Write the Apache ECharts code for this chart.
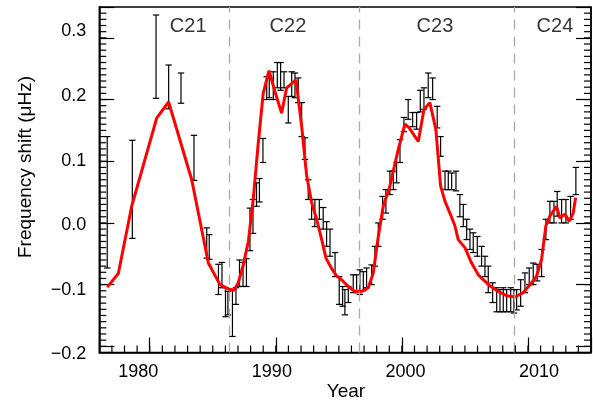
<!DOCTYPE html>
<html><head><meta charset="utf-8">
<script src="https://cdn.jsdelivr.net/npm/echarts@6/dist/echarts.min.js"></script>
<style>html,body{margin:0;padding:0;background:#fff}#c{width:593px;height:403px}</style>
</head><body><div id="c"></div>
<script>
// Error bar measurements: year, lower and upper ends (μHz)
const barYears = [1976.63, 1978.62, 1980.50, 1981.50, 1982.48, 1983.51, 1984.52, 1984.72, 1985.45, 1985.73, 1986.01, 1986.20, 1986.56, 1986.84, 1987.12, 1987.40, 1987.67, 1987.95, 1988.19, 1988.47, 1988.70, 1988.98, 1989.28, 1989.48, 1989.80, 1990.12, 1990.38, 1990.65, 1990.99, 1991.26, 1991.52, 1991.78, 1992.05, 1992.31, 1992.57, 1992.84, 1993.10, 1993.45, 1993.76, 1994.03, 1994.30, 1994.70, 1995.03, 1995.30, 1995.48, 1995.75, 1996.14, 1996.41, 1996.67, 1996.94, 1997.20, 1997.60, 1997.86, 1998.13, 1998.47, 1998.73, 1999.05, 1999.32, 1999.58, 1999.85, 2000.16, 2000.50, 2000.85, 2001.17, 2001.46, 2001.75, 2002.09, 2002.44, 2002.80, 2003.07, 2003.42, 2003.68, 2003.95, 2004.29, 2004.60, 2004.87, 2005.14, 2005.40, 2005.66, 2005.98, 2006.32, 2006.59, 2006.85, 2007.20, 2007.52, 2007.78, 2008.04, 2008.31, 2008.63, 2008.89, 2009.10, 2009.42, 2009.76, 2010.10, 2010.42, 2010.73, 2011.08, 2011.42, 2011.74, 2012.06, 2012.32, 2012.67, 2013.01, 2013.38, 2013.80];
const barLow = [-0.073, -0.025, 0.202, 0.185, 0.194, 0.069, -0.057, -0.059, -0.116, -0.105, -0.152, -0.149, -0.184, -0.132, -0.103, -0.103, -0.103, -0.045, -0.017, 0.027, 0.034, 0.098, 0.200, 0.203, 0.200, 0.219, 0.215, 0.219, 0.162, 0.205, 0.203, 0.195, 0.140, 0.103, 0.038, 0.006, -0.006, 0.006, -0.010, -0.038, -0.054, -0.087, -0.132, -0.135, -0.149, -0.129, -0.113, -0.113, -0.116, -0.110, -0.105, -0.100, -0.070, -0.038, 0.006, 0.016, 0.046, 0.054, 0.065, 0.098, 0.148, 0.168, 0.156, 0.152, 0.180, 0.184, 0.203, 0.200, 0.154, 0.108, 0.054, 0.054, 0.054, 0.052, 0.010, -0.006, -0.027, -0.043, -0.048, -0.054, -0.070, -0.087, -0.113, -0.129, -0.144, -0.144, -0.144, -0.144, -0.144, -0.146, -0.141, -0.135, -0.113, -0.100, -0.100, -0.094, -0.087, -0.027, 0.000, 0.000, 0.011, 0.000, 0.000, 0.006, 0.046];
const barHigh = [0.140, 0.134, 0.337, 0.256, 0.243, 0.142, -0.008, -0.019, -0.067, -0.064, -0.105, -0.111, -0.108, -0.105, -0.060, -0.064, -0.058, 0.024, 0.038, 0.065, 0.072, 0.137, 0.237, 0.235, 0.245, 0.260, 0.260, 0.245, 0.205, 0.245, 0.243, 0.235, 0.195, 0.138, 0.070, 0.038, 0.038, 0.038, 0.025, 0.002, -0.010, -0.048, -0.087, -0.103, -0.108, -0.103, -0.084, -0.084, -0.076, -0.079, -0.073, -0.068, -0.038, 0.000, 0.043, 0.054, 0.084, 0.084, 0.098, 0.135, 0.171, 0.200, 0.179, 0.179, 0.215, 0.219, 0.243, 0.235, 0.189, 0.140, 0.084, 0.084, 0.081, 0.084, 0.046, 0.030, 0.006, -0.010, -0.016, -0.022, -0.038, -0.054, -0.070, -0.097, -0.105, -0.108, -0.105, -0.108, -0.105, -0.108, -0.108, -0.092, -0.081, -0.073, -0.065, -0.067, -0.043, 0.006, 0.035, 0.035, 0.051, 0.038, 0.038, 0.043, 0.090];

// Red curve
const fitYears = [1976.63, 1977.51, 1978.57, 1980.55, 1981.50, 1983.33, 1984.65, 1985.57, 1986.23, 1986.70, 1987.02, 1987.42, 1987.82, 1988.21, 1988.61, 1989.00, 1989.46, 1989.93, 1990.46, 1990.86, 1991.60, 1992.05, 1992.45, 1992.84, 1993.24, 1993.64, 1993.98, 1994.43, 1994.83, 1995.22, 1995.75, 1996.28, 1996.81, 1997.33, 1997.73, 1998.13, 1998.52, 1999.05, 1999.71, 2000.24, 2000.58, 2001.30, 2001.75, 2002.22, 2002.70, 2003.07, 2003.42, 2003.81, 2004.21, 2004.47, 2005.00, 2005.53, 2006.06, 2006.45, 2006.98, 2007.64, 2008.31, 2008.97, 2009.62, 2010.29, 2010.69, 2011.08, 2011.42, 2011.74, 2012.27, 2012.53, 2012.93, 2013.27, 2013.59, 2013.78];
const fitValues = [-0.104, -0.082, 0.027, 0.170, 0.196, 0.070, -0.065, -0.100, -0.107, -0.109, -0.097, -0.068, -0.030, 0.038, 0.130, 0.210, 0.247, 0.213, 0.178, 0.219, 0.232, 0.157, 0.076, 0.033, 0.006, -0.027, -0.057, -0.074, -0.086, -0.092, -0.103, -0.111, -0.111, -0.105, -0.081, -0.022, 0.027, 0.060, 0.119, 0.160, 0.154, 0.132, 0.184, 0.195, 0.151, 0.060, 0.035, 0.016, -0.005, -0.027, -0.040, -0.065, -0.084, -0.092, -0.102, -0.111, -0.118, -0.120, -0.113, -0.097, -0.086, -0.059, -0.005, 0.011, 0.027, 0.008, 0.014, 0.003, 0.016, 0.041];

// Cycle minima (dashed) and cycle names
const minimaYears = [1986.3, 1996.6, 2008.9];
const cycleNames = ['C21', 'C22', 'C23', 'C24'];
const cycleLabelYears = [1983.05, 1990.96, 2002.62, 2012.14];
const cycleLabelValue = 0.318;

// Tick labels
const xTickLabels = [1980, 1990, 2000, 2010];
const yTickLabels = [-0.2, -0.1, 0.0, 0.1, 0.2, 0.3];

const FONT = 'Liberation Sans';
const chart = echarts.init(document.getElementById('c'), null, {renderer: 'canvas'});

const X_MIN = 1976, X_MAX = 2015, Y_MIN = -0.21, Y_MAX = 0.35;
const tickStyle = {color: '#000', width: 1.2};

// minor tick values (one per year, one per 0.01 μHz), placed through the axes' scales
const minorYearTicks = [];
for (let y = X_MIN + 1; y < X_MAX; y++) minorYearTicks.push(y);
const minorValueTicks = [];
for (let k = Math.round(Y_MIN * 100) + 1; k < Math.round(Y_MAX * 100); k++) minorValueTicks.push(k / 100);
const minorTickData = []
  .concat(minorYearTicks.map(y => [y, Y_MIN, 0]))
  .concat(minorValueTicks.map(v => [X_MIN, v, 1]))
  .concat(minorValueTicks.map(v => [X_MAX, v, 2]));

const majorY = (pos) => ({
  gridIndex: 0, type: 'value', position: pos, min: Y_MIN, max: Y_MAX,
  minInterval: 0.1, maxInterval: 0.1,
  axisLine: {show: true, onZero: false, lineStyle: {color: '#000', width: 1.5}},
  axisTick: {show: true, inside: true, length: 15, lineStyle: tickStyle},
  axisLabel: {show: false}, splitLine: {show: false}
});

const option = {
  animation: false,
  backgroundColor: '#fff',
  grid: [
    {left: 99.3, right: 2, top: 7, bottom: 50.5, outerBoundsMode: 'none', show: true, borderColor: '#000', borderWidth: 1.5, backgroundColor: 'transparent'},
    {left: 138.3, right: 54, top: 7, bottom: 50.5, outerBoundsMode: 'none'},
    {left: 99.3, right: 2, top: 31.5, bottom: 48.5, outerBoundsMode: 'none'}
  ],
  xAxis: [
    {gridIndex: 0, type: 'value', position: 'bottom', min: X_MIN, max: X_MAX, minInterval: 10, maxInterval: 10,
     axisLine: {show: true, onZero: false, lineStyle: {color: '#000', width: 1.5}},
     axisTick: {show: true, inside: true, length: 15, lineStyle: tickStyle},
     axisLabel: {show: false}, splitLine: {show: false}},
    {gridIndex: 1, type: 'value', min: xTickLabels[0], max: xTickLabels[xTickLabels.length - 1], interval: 10,
     axisLine: {show: false, onZero: false}, axisTick: {show: false}, splitLine: {show: false},
     axisLabel: {show: true, margin: 11, fontFamily: FONT, fontSize: 18, color: '#000',
       formatter: v => String(Math.round(v))}},
    {gridIndex: 2, type: 'value', show: false, min: X_MIN, max: X_MAX}
  ],
  yAxis: [
    majorY('left'),
    majorY('right'),
    {gridIndex: 1, type: 'value', show: false, min: Y_MIN, max: Y_MAX},
    {gridIndex: 2, type: 'value', min: yTickLabels[0], max: yTickLabels[yTickLabels.length - 1], interval: 0.1,
     axisLine: {show: false, onZero: false}, axisTick: {show: false}, splitLine: {show: false},
     axisLabel: {show: true, margin: 13, fontFamily: FONT, fontSize: 18, color: '#000',
       formatter: v => (v < -1e-9 ? '\u2212' : '') + Math.abs(v).toFixed(1)}}
  ],
  graphic: [
    {type: 'text', x: 26, y: 167, rotation: Math.PI / 2,
     style: {text: 'Frequency shift (\u03bcHz)', fontFamily: FONT, fontSize: 19, fill: '#000',
       align: 'center', verticalAlign: 'middle', textAlign: 'center', textVerticalAlign: 'middle'}},
    {type: 'text', x: 346, y: 392,
     style: {text: 'Year', fontFamily: FONT, fontSize: 19, fill: '#000',
       align: 'center', verticalAlign: 'middle', textAlign: 'center', textVerticalAlign: 'middle'}}
  ],
  series: [
    {type: 'scatter', xAxisIndex: 0, yAxisIndex: 0, data: [], z: 1, silent: true,
     markLine: {silent: true, symbol: ['none', 'none'], label: {show: false},
       lineStyle: {type: [10, 7], color: '#aaaaaa', width: 1.3},
       data: minimaYears.map(x => ({xAxis: x}))}},
    // minor ticks on bottom, left and right frame edges
    {type: 'custom', xAxisIndex: 0, yAxisIndex: 0, z: 5, silent: true, clip: false,
     data: minorTickData, encode: {x: 0, y: 1},
     renderItem: function (params, api) {
       const p = api.coord([api.value(0), api.value(1)]);
       const side = api.value(2);
       const L = 7;
       let shape;
       if (side === 0) shape = {x1: p[0], y1: p[1], x2: p[0], y2: p[1] - L};
       else if (side === 1) shape = {x1: p[0], y1: p[1], x2: p[0] + L, y2: p[1]};
       else shape = {x1: p[0], y1: p[1], x2: p[0] - L, y2: p[1]};
       return {type: 'line', shape: shape, style: {stroke: '#000', lineWidth: 1.2}};
     }},
    {type: 'custom', xAxisIndex: 0, yAxisIndex: 0, z: 2,
     data: barYears.map((x, i) => [x, barLow[i], barHigh[i]]),
     encode: {x: 0, y: [1, 2]},
     renderItem: function (params, api) {
       const x = api.value(0);
       const pLo = api.coord([x, api.value(1)]);
       const pHi = api.coord([x, api.value(2)]);
       const w = 3.2;
       const st = {stroke: '#000', lineWidth: 1.2};
       return {type: 'group', children: [
         {type: 'line', shape: {x1: pLo[0], y1: pLo[1], x2: pHi[0], y2: pHi[1]}, style: st},
         {type: 'line', shape: {x1: pLo[0] - w, y1: pLo[1], x2: pLo[0] + w, y2: pLo[1]}, style: st},
         {type: 'line', shape: {x1: pHi[0] - w, y1: pHi[1], x2: pHi[0] + w, y2: pHi[1]}, style: st}
       ]};
     }},
    {type: 'line', xAxisIndex: 0, yAxisIndex: 0, z: 3, symbol: 'none',
     data: fitYears.map((x, i) => [x, fitValues[i]]),
     lineStyle: {color: '#ff0000', width: 3}},
    {type: 'scatter', xAxisIndex: 0, yAxisIndex: 0, z: 4, symbolSize: 0, silent: true,
     data: cycleNames.map((n, i) => ({value: [cycleLabelYears[i], cycleLabelValue], name: n})),
     label: {show: true, position: 'inside', formatter: p => p.name,
       fontFamily: FONT, fontSize: 20, color: '#000'}}
  ]
};
chart.setOption(option);
</script>
</body></html>
